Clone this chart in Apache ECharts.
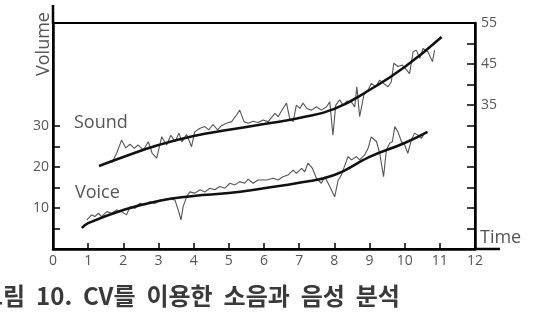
<!DOCTYPE html>
<html lang="ko">
<head>
<meta charset="utf-8">
<script src="https://cdn.jsdelivr.net/npm/echarts@6/dist/echarts.min.js"></script>
<style>
  html, body { margin: 0; padding: 0; background: #fff; }
  #main { width: 538px; height: 317px; }
</style>
</head>
<body>
<div id="main"></div>
<script>
// 축 눈금 라벨
var xLabels = [0, 1, 2, 3, 4, 5, 6, 7, 8, 9, 10, 11, 12];
var leftTicks = [5, 10, 15, 20, 25, 30];
var leftLabels = [10, 20, 30];
var rightTicks = [5, 10, 15, 20, 25, 30, 35, 40, 45, 50, 55];
var rightLabels = [35, 45, 55];

// 추세선 (시간, 볼륨)
var soundTrend = [[1.31, 20.2], [2, 22.4], [3, 25.3], [4, 27.5], [5, 29.0], [6, 30.4],
  [7, 31.9], [8, 34.1], [9, 38.7], [10, 44.3], [11.05, 51.6]];
var voiceTrend = [[0.82, 5.1], [1, 6.3], [2, 9.5], [3, 11.7], [4, 12.9], [5, 13.6],
  [6, 14.8], [7, 16.1], [8, 18.0], [9, 22.4], [10, 25.8], [10.65, 28.5]];

// 측정값 (소음)
var soundNoise = [[1.67, 20.9], [1.81, 23.3], [1.95, 26.5], [2.07, 24.6], [2.19, 25.5], [2.31, 24.5],
  [2.42, 25.3], [2.57, 24.1], [2.71, 26.1], [2.82, 23.3], [2.95, 22.1], [3.09, 27.3], [3.23, 25.3],
  [3.35, 27.7], [3.47, 26.1], [3.58, 28.2], [3.67, 26.1], [3.80, 27.9], [3.94, 24.9], [4.03, 28.5],
  [4.18, 29.4], [4.32, 29.8], [4.43, 29.0], [4.55, 30.3], [4.68, 29.0], [4.79, 30.0], [4.93, 30.6],
  [5.08, 31.0], [5.22, 32.6], [5.31, 33.8], [5.43, 31.0], [5.55, 30.6], [5.69, 31.1], [5.83, 30.8],
  [5.97, 31.4], [6.12, 31.0], [6.31, 33.0], [6.40, 32.2], [6.54, 34.2], [6.64, 35.5], [6.73, 31.8],
  [6.83, 31.0], [6.92, 35.0], [7.02, 34.2], [7.11, 35.5], [7.22, 34.2], [7.35, 33.8], [7.49, 34.6],
  [7.63, 33.8], [7.78, 34.6], [7.87, 35.8], [7.96, 27.7], [8.04, 35.0], [8.15, 36.3], [8.25, 35.0],
  [8.36, 36.0], [8.49, 35.7], [8.58, 34.6], [8.64, 39.5], [8.72, 32.2], [8.84, 37.5], [8.96, 38.7],
  [9.05, 40.3], [9.18, 39.5], [9.29, 41.1], [9.40, 40.3], [9.53, 39.5], [9.62, 40.7], [9.69, 45.2],
  [9.81, 44.4], [9.93, 44.8], [10.05, 43.6], [10.14, 42.7], [10.24, 48.0], [10.33, 48.4], [10.43, 46.4],
  [10.52, 48.8], [10.66, 48.0], [10.79, 45.6], [10.85, 48.4]];

// 측정값 (음성)
var voiceNoise = [[0.96, 7.1], [1.10, 8.3], [1.19, 7.9], [1.29, 8.7], [1.38, 7.9], [1.53, 9.1],
  [1.67, 8.7], [1.81, 9.5], [1.95, 9.1], [2.09, 8.3], [2.19, 10.3], [2.33, 9.9], [2.47, 11.1],
  [2.61, 10.7], [2.76, 11.5], [2.90, 11.1], [3.04, 11.9], [3.18, 12.1], [3.32, 12.3], [3.47, 11.9],
  [3.56, 9.5], [3.64, 7.1], [3.70, 10.3], [3.80, 12.7], [3.89, 13.9], [4.03, 13.6], [4.18, 14.4],
  [4.32, 13.9], [4.46, 14.8], [4.60, 14.4], [4.74, 15.2], [4.89, 14.8], [5.03, 16.0], [5.17, 15.6],
  [5.31, 16.4], [5.45, 16.0], [5.55, 17.0], [5.69, 16.0], [5.83, 16.8], [6.07, 16.8], [6.26, 17.2],
  [6.40, 16.8], [6.54, 17.6], [6.68, 18.0], [6.83, 19.2], [6.92, 18.4], [7.07, 19.6], [7.16, 18.8],
  [7.25, 20.9], [7.38, 19.6], [7.49, 17.2], [7.63, 16.0], [7.73, 17.6], [7.87, 15.2], [8.01, 12.7],
  [8.11, 16.8], [8.20, 18.0], [8.30, 20.4], [8.39, 22.5], [8.49, 21.7], [8.63, 22.5], [8.72, 21.7],
  [8.86, 22.9], [8.96, 24.5], [9.05, 27.3], [9.20, 26.1], [9.29, 23.3], [9.40, 17.6], [9.48, 24.1],
  [9.57, 25.7], [9.65, 26.1], [9.72, 29.8], [9.81, 28.5], [9.91, 26.1], [10.00, 25.3], [10.09, 23.3],
  [10.19, 26.5], [10.28, 28.2], [10.38, 27.7], [10.47, 26.9], [10.57, 28.2]];

var labelColor = '#555';
var font = 'Open Sans';

var myChart = echarts.init(document.getElementById('main'));
myChart.setOption({
    animation: false,
    title: {
        text: '그림  10.  CV를  이용한  소음과  음성  분석',
        left: -24,
        top: 279,
        textStyle: { fontFamily: 'Noto Sans CJK KR', fontSize: 24, fontWeight: 'bold', color: '#3a3a3a' }
    },
    grid: {
        left: 53, right: 63, top: 23, bottom: 68,
        show: true, borderColor: '#000', borderWidth: 2
    },
    xAxis: {
        type: 'value', min: 0, max: 12, interval: 1,
        name: 'Time', nameLocation: 'end', nameGap: 5,
        nameTextStyle: { fontFamily: font, fontSize: 18, color: labelColor, align: 'left', verticalAlign: 'bottom', padding: [0, 0, 2, 0] },
        axisLine: { lineStyle: { color: '#000', width: 2.5 } },
        axisTick: { inside: true, length: 6, lineStyle: { color: '#000', width: 1.5 }, customValues: xLabels },
        axisLabel: { fontFamily: font, fontSize: 14, color: labelColor, margin: 5, customValues: xLabels },
        splitLine: { show: false }
    },
    yAxis: [{
        type: 'value', min: 0, max: 55, position: 'left',
        axisLine: { show: true, lineStyle: { color: '#000', width: 2.5 } },
        axisTick: { show: true, inside: true, length: 7, lineStyle: { color: '#000', width: 1.5 }, customValues: leftTicks },
        axisLabel: { fontFamily: font, fontSize: 14, color: labelColor, margin: 4, customValues: leftLabels },
        splitLine: { show: false }
    }, {
        type: 'value', min: 0, max: 55, position: 'right',
        axisLine: { show: true, lineStyle: { color: '#000', width: 2.5 } },
        axisTick: { show: true, inside: true, length: 8, lineStyle: { color: '#000', width: 1.5 }, customValues: rightTicks },
        axisLabel: { fontFamily: font, fontSize: 14, color: labelColor, margin: 6, customValues: rightLabels },
        splitLine: { show: false }
    }],
    graphic: [
        // 축선 연장
        { type: 'line', shape: { x1: 53, y1: 5, x2: 53, y2: 24 }, style: { stroke: '#000', lineWidth: 2.5 } },
        { type: 'line', shape: { x1: 475, y1: 249, x2: 500, y2: 249 }, style: { stroke: '#000', lineWidth: 2.5 } },
        { type: 'text', x: 44, y: 44, rotation: Math.PI / 2,
          style: { text: 'Volume', fontFamily: font, fontSize: 18, fill: labelColor, align: 'center', verticalAlign: 'middle' } },
        { type: 'text', left: 74, top: 114,
          style: { text: 'Sound', fontFamily: font, fontSize: 18, fill: labelColor } },
        { type: 'text', left: 75, top: 184,
          style: { text: 'Voice', fontFamily: font, fontSize: 18, fill: labelColor } }
    ],
    series: [{
        name: 'Sound', type: 'line', data: soundNoise, symbol: 'none',
        lineStyle: { color: '#555', width: 1.1 }, z: 2
    }, {
        name: 'Voice', type: 'line', data: voiceNoise, symbol: 'none',
        lineStyle: { color: '#555', width: 1.1 }, z: 2
    }, {
        name: 'Sound trend', type: 'line', data: soundTrend, symbol: 'none', smooth: true,
        lineStyle: { color: '#111', width: 2.5 }, z: 3
    }, {
        name: 'Voice trend', type: 'line', data: voiceTrend, symbol: 'none', smooth: true,
        lineStyle: { color: '#111', width: 2.5 }, z: 3
    }]
});
</script>
</body>
</html>
